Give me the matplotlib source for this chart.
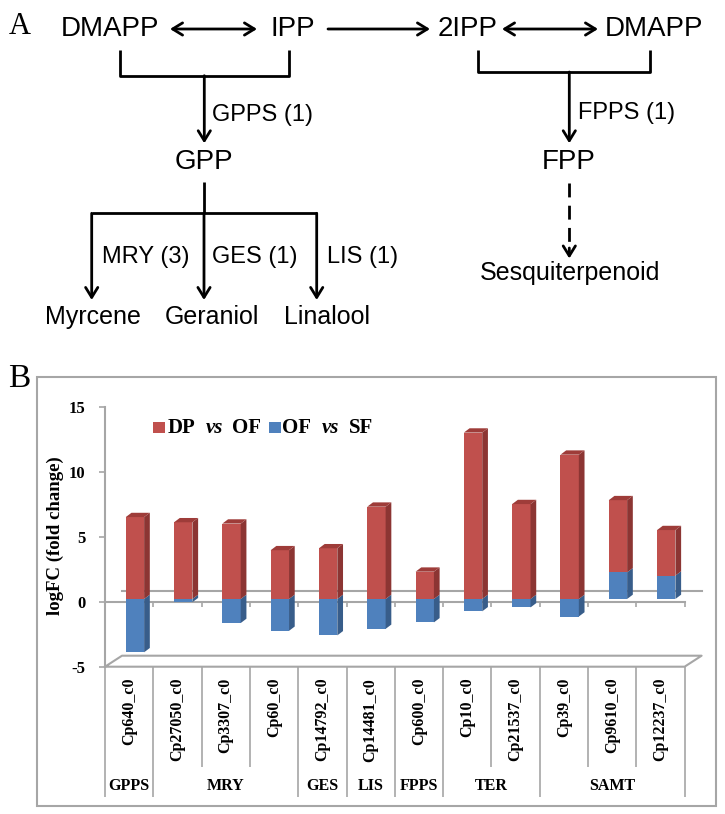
import matplotlib.pyplot as plt
from matplotlib.patches import Polygon, Rectangle

# panel B data
genes = ["Cp640_c0", "Cp27050_c0", "Cp3307_c0", "Cp60_c0", "Cp14792_c0", "Cp14481_c0",
         "Cp600_c0", "Cp10_c0", "Cp21537_c0", "Cp39_c0", "Cp9610_c0", "Cp12237_c0"]
groups = ["GPPS", "MRY", "GES", "LIS", "FPPS", "TER", "SAMT"]
group_sizes = [1, 3, 1, 1, 1, 2, 3]
dp_of = [6.3, 5.9, 5.8, 3.75, 3.9, 7.1, 2.1, 12.8, 7.3, 11.1, 5.55, 3.5]
of_sf = [-4.1, -0.25, -1.85, -2.45, -2.8, -2.3, -1.8, -0.95, -0.65, -1.35, 2.05, 1.8]
yticks = [-5, 0, 5, 10, 15]

SANS = "Liberation Sans"
SERIF = "Liberation Serif"
GRAY = "#a6a6a6"
RED, RED_SIDE, RED_TOP = "#c0504d", "#8c3533", "#9e3c39"
BLUE, BLUE_SIDE = "#4f81bd", "#385d8a"

fig = plt.figure(figsize=(7.25, 8.14), dpi=100)

# overlay in pixel units for the diagram and frame
ax0 = fig.add_axes([0, 0, 1, 1])
ax0.set_xlim(0, 725)
ax0.set_ylim(814, 0)
ax0.axis("off")


def name(x, y, s, size=20, ha="center"):
    ax0.text(x, y, s, fontsize=size, family=SANS, ha=ha, va="center")


def line(xs, ys, ls="-"):
    ax0.plot(xs, ys, color="black", lw=2, ls=ls, solid_capstyle="butt")


def arrow(x1, y1, x2, y2, style="->"):
    ax0.annotate("", xy=(x2, y2), xytext=(x1, y1),
                 arrowprops=dict(arrowstyle=style + ",head_length=0.65,head_width=0.4",
                                 lw=2, color="black", mutation_scale=11,
                                 shrinkA=0, shrinkB=0))


# ---- panel A ----
ax0.text(20, 26, "A", fontsize=22, family=SERIF, ha="center", va="center")
name(110, 29, "DMAPP")
name(292.5, 29, "IPP")
name(467.5, 29, "2IPP")
name(654, 29, "DMAPP")
arrow(170, 29, 257, 29, "<->")
arrow(328, 29, 430, 29)
arrow(502, 29, 598, 29, "<->")

line([120, 120, 289, 289], [50, 75.7, 75.7, 50])
arrow(204.3, 75.7, 204.3, 143.3)
name(212, 115, "GPPS (1)", 17, "left")
name(204, 162, "GPP")

line([478.3, 478.3, 650, 650], [50, 72, 72, 50])
arrow(569.3, 72, 569.3, 143.3)
name(578, 113, "FPPS (1)", 17, "left")
name(569, 162, "FPP")

line([204, 204], [181.7, 213.3])
line([91.7, 316.7], [213.3, 213.3])
for xa in [91.7, 204, 316.7]:
    arrow(xa, 213.3, xa, 300)
name(101.7, 257.3, "MRY (3)", 17, "left")
name(211.7, 257.3, "GES (1)", 17, "left")
name(327, 257.3, "LIS (1)", 17, "left")
name(92.5, 316.7, "Myrcene", 18)
name(211.7, 316.7, "Geraniol", 18)
name(327, 316.7, "Linalool", 18)

ax0.plot([569.3, 569.3], [183, 250], color="black", lw=2, ls=(0, (5, 3)))
arrow(569.3, 248, 569.3, 258.5)
name(570, 273.3, "Sesquiterpenoid", 18)

# ---- panel B frame, label, legend ----
ax0.add_patch(Rectangle((37, 377), 679, 429, fill=False, ec=GRAY, lw=1.5))
ax0.text(19, 379, "B", fontsize=24, family=SERIF, ha="center", va="center")
ax0.text(55.5, 535.7, "logFC (fold change)", rotation=90, fontsize=13.5,
         family=SERIF, weight="bold", ha="center", va="center")

ax0.add_patch(Rectangle((153, 422), 12, 11, color=RED, lw=0))
ax0.add_patch(Rectangle((269.5, 422), 12, 11, color=BLUE, lw=0))
leg = [(167.5, "DP", "normal"), (206, "vs", "italic"), (232.5, "OF", "normal"),
       (282.5, "OF", "normal"), (321.5, "vs", "italic"), (349, "SF", "normal")]
for xl, s, st in leg:
    ax0.text(xl, 428, s, fontsize=15, family=SERIF, weight="bold", style=st,
             ha="left", va="center")

# ---- panel B chart ----
ax = fig.add_axes([105 / 725, 1 - 666.7 / 814, 579.6 / 725, 260 / 814])
ax.set_xlim(0, 12)
ax.set_ylim(-5, 15)
ax.patch.set_alpha(0)
for s in ["top", "right", "bottom"]:
    ax.spines[s].set_visible(False)
ax.spines["left"].set_color(GRAY)
ax.spines["left"].set_linewidth(1.5)
ax.set_xticks([])
ax.set_yticks(yticks)
ax.set_yticklabels([str(t) for t in yticks], family=SERIF, weight="bold", fontsize=12)
ax.tick_params(axis="y", length=4, color=GRAY, width=1.2, pad=10)

n = len(genes)
ddx, ddy = 0.352, 0.846      # floor depth
fdx, base = 0.12, 0.21       # bar front face offset
sdx, sdy = 0.118, 0.33       # bar depth
w = 0.38

kw = dict(color=GRAY, lw=1.5, clip_on=False)
ax.plot([0, n], [0, 0], zorder=1, **kw)
ax.plot([ddx, n + ddx], [ddy, ddy], zorder=1, **kw)
ax.plot([0, n, n + ddx, ddx, 0], [-5, -5, -5 + ddy, -5 + ddy, -5], zorder=1, **kw)
ax.vlines(range(1, n + 1), 0, -0.4, colors=GRAY, lw=1.2, clip_on=False)

xc = [i + 0.5 + fdx for i in range(n)]
red_bottom = [base + max(b, 0) for b in of_sf]
ax.bar(xc, of_sf, w, bottom=base, color=BLUE, zorder=3)
ax.bar(xc, dp_of, w, bottom=red_bottom, color=RED, zorder=3)
for i in range(n):
    x0, x1 = xc[i] - w / 2, xc[i] + w / 2
    b = of_sf[i]
    ax.add_patch(Polygon([(x1, base), (x1 + sdx, base + sdy), (x1 + sdx, base + b + sdy),
                          (x1, base + b)], color=BLUE_SIDE, lw=0, zorder=3))
    rb, t = red_bottom[i], red_bottom[i] + dp_of[i]
    ax.add_patch(Polygon([(x1, rb), (x1 + sdx, rb + sdy), (x1 + sdx, t + sdy), (x1, t)],
                         color=RED_SIDE, lw=0, zorder=3))
    ax.add_patch(Polygon([(x0, t), (x1, t), (x1 + sdx, t + sdy), (x0 + sdx, t + sdy)],
                         color=RED_TOP, lw=0, zorder=3))

# category table below the floor
edges = [0]
for g in group_sizes:
    edges.append(edges[-1] + g)
short = [k for k in range(1, n) if k not in edges]
ax.vlines(edges, -5, -15, colors=GRAY, lw=1.2, clip_on=False)
ax.vlines(short, -5, -12.7, colors=GRAY, lw=1.2, clip_on=False)
for i, g in enumerate(genes):
    ax.text(i + 0.5, -5.85, g, rotation=90, ha="center", va="top", family=SERIF,
            weight="bold", fontsize=11.5, clip_on=False)
for k, g in enumerate(groups):
    ax.text((edges[k] + edges[k + 1]) / 2, -14.2, g, ha="center", va="center",
            family=SERIF, weight="bold", fontsize=11.5, clip_on=False)

fig.savefig("out.png", dpi=100)
